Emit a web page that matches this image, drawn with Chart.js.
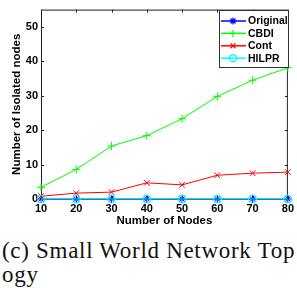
<!DOCTYPE html>
<html>
<head>
<meta charset="utf-8">
<script src="https://cdn.jsdelivr.net/npm/chart.js@4"></script>
<style>
  body { margin: 0; background: #fff; width: 297px; height: 288px; overflow: hidden; position: relative; }
  #wrap { position: absolute; left: 0; top: 0; width: 297px; height: 228px; }
  #cap { position: absolute; left: 2px; top: 239px; font-family: "Liberation Serif", serif; font-size: 23px;
         letter-spacing: 0.7px; line-height: 23.5px; white-space: nowrap; color: #111; }
</style>
</head>
<body>
<div id="wrap"><canvas id="chart"></canvas></div>
<div id="cap">(c) Small World Network Top<br>ogy</div>
<script>
// data
const nodes = [10, 20, 30, 40, 50, 60, 70, 80];
const original = [0, 0, 0, 0, 0, 0, 0, 0];
const cbdi = [3.4, 8.6, 15.4, 18.4, 23.3, 29.8, 34.5, 38.1];
const cont = [0.8, 1.7, 2.0, 4.7, 4.1, 6.9, 7.5, 7.8];
const hilpr = [0, 0, 0, 0, 0, 0, 0, 0];
const xTicks = [10, 20, 30, 40, 50, 60, 70, 80];
const yTicks = [0, 10, 20, 30, 40, 50];

const series = [
  { label: "Original", values: original, color: "#0000ff", marker: "star" },
  { label: "CBDI", values: cbdi, color: "#00ff00", marker: "cross" },
  { label: "Cont", values: cont, color: "#ff0000", marker: "crossRot" },
  { label: "HILPR", values: hilpr, color: "#00ffff", marker: "circle" },
];

const font = "Liberation Sans, Arial, sans-serif";

// helper: MATLAB-like marker for the legend
function marker(ctx, style, x, y, r) {
  ctx.beginPath();
  if (style === "circle") {
    ctx.arc(x, y, r, 0, Math.PI * 2);
  } else {
    if (style === "cross" || style === "star") {
      ctx.moveTo(x - r, y); ctx.lineTo(x + r, y);
      ctx.moveTo(x, y - r); ctx.lineTo(x, y + r);
    }
    if (style === "crossRot" || style === "star") {
      const d = r * 0.707;
      ctx.moveTo(x - d, y - d); ctx.lineTo(x + d, y + d);
      ctx.moveTo(x - d, y + d); ctx.lineTo(x + d, y - d);
    }
  }
  ctx.stroke();
}

// box around plot with inward ticks
const boxPlugin = {
  id: "box",
  beforeDatasetsDraw(chart) {
    const { ctx, chartArea: a, scales } = chart;
    ctx.save();
    ctx.strokeStyle = "#222";
    ctx.lineWidth = 1;
    ctx.strokeRect(a.left + 0.5, a.top + 0.5, a.right - a.left - 1, a.bottom - a.top);
    ctx.beginPath();
    xTicks.forEach((v) => {
      const x = Math.round(scales.x.getPixelForValue(v)) + 0.5;
      ctx.moveTo(x, a.bottom); ctx.lineTo(x, a.bottom - 3);
      ctx.moveTo(x, a.top); ctx.lineTo(x, a.top + 3);
    });
    yTicks.forEach((v) => {
      const y = Math.round(scales.y.getPixelForValue(v)) + 0.5;
      ctx.moveTo(a.left, y); ctx.lineTo(a.left + 3, y);
      ctx.moveTo(a.right, y); ctx.lineTo(a.right - 3, y);
    });
    ctx.stroke();
    ctx.restore();
  },
  afterDatasetsDraw(chart) {
    // legend box top right
    const { ctx } = chart;
    const bx = 219, by = 10, bw = 69, bh = 57;
    ctx.save();
    ctx.fillStyle = "#fff";
    ctx.fillRect(bx, by, bw, bh);
    ctx.strokeStyle = "#333";
    ctx.lineWidth = 1;
    ctx.strokeRect(bx + 0.5, by + 0.5, bw, bh);
    ctx.font = "bold 10.5px " + font;
    ctx.textBaseline = "middle";
    series.forEach((s, i) => {
      const y = by + 11 + i * 12.4;
      ctx.strokeStyle = s.color;
      ctx.lineWidth = 1.5;
      ctx.beginPath();
      ctx.moveTo(bx + 2, y); ctx.lineTo(bx + 27, y);
      ctx.stroke();
      ctx.lineWidth = 1.2;
      marker(ctx, s.marker, bx + 14, y, 3.5);
      ctx.fillStyle = "#000";
      ctx.fillText(s.label, bx + 29, y + 0.5);
    });
    ctx.restore();
  },
};

new Chart(document.getElementById("chart"), {
  type: "line",
  data: {
    datasets: series.map((s, i) => ({
      label: s.label,
      data: nodes.map((n, j) => ({ x: n, y: s.values[j] })),
      borderColor: s.color,
      backgroundColor: "transparent",
      borderWidth: 1,
      pointStyle: s.marker,
      pointRadius: 4,
      pointBorderColor: s.color,
      pointBackgroundColor: "transparent",
      pointBorderWidth: 1,
      tension: 0,
      clip: false,
      order: 3 - i,
    })),
  },
  options: {
    responsive: true,
    maintainAspectRatio: false,
    animation: false,
    layout: { padding: { top: 8, right: 5, left: 0, bottom: 0 } },
    plugins: { legend: { display: false }, tooltip: { enabled: false } },
    scales: {
      x: {
        type: "linear",
        min: 10,
        max: 80,
        afterBuildTicks: (s) => { s.ticks = xTicks.map((v) => ({ value: v })); },
        afterFit: (s) => { s.height = 29; },
        grid: { display: false, drawTicks: false },
        border: { display: false },
        ticks: { color: "#000", padding: 3, font: { family: font, size: 11, weight: "bold" } },
        title: {
          display: true, text: "Number of Nodes", color: "#000",
          padding: { top: 0, bottom: 0 }, font: { family: font, size: 11.5, weight: "bold" },
        },
      },
      y: {
        type: "linear",
        min: 0,
        max: 55,
        afterBuildTicks: (s) => { s.ticks = yTicks.map((v) => ({ value: v })); },
        afterFit: (s) => { s.width = 41; },
        grid: { display: false, drawTicks: false },
        border: { display: false },
        ticks: { color: "#000", padding: 3, font: { family: font, size: 11, weight: "bold" } },
        title: {
          display: true, text: "Number of Isolated nodes", color: "#000",
          padding: { top: 10, bottom: 0 }, font: { family: font, size: 11.5, weight: "bold" },
        },
      },
    },
  },
  plugins: [boxPlugin],
});
</script>
</body>
</html>
